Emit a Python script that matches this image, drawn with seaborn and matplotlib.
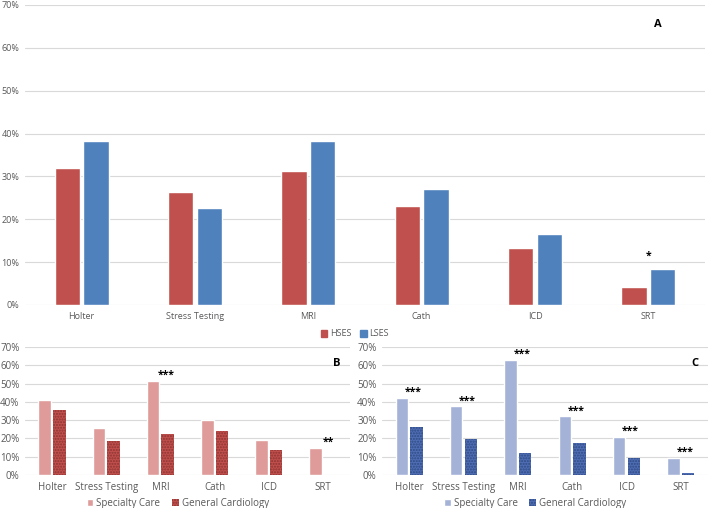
import matplotlib
matplotlib.use("Agg")
import matplotlib.pyplot as plt
from matplotlib.patches import Patch
import seaborn as sns
import pandas as pd

# categorias e valores (%)
categorias = ["Holter", "Stress Testing", "MRI", "Cath", "ICD", "SRT"]

hses = [32.0, 26.4, 31.3, 23.0, 13.3, 4.3]
lses = [38.3, 22.6, 38.3, 27.1, 16.6, 8.3]
estrelas_a = ["", "", "", "", "", "*"]

b_especialidade = [40.8, 25.8, 51.4, 30.2, 19.0, 15.0]
b_geral = [35.6, 18.6, 22.2, 23.8, 13.5, 0.0]
estrelas_b = ["", "", "***", "", "", "**"]

c_especialidade = [42.0, 37.5, 63.1, 32.0, 20.7, 9.5]
c_geral = [26.1, 19.7, 11.9, 17.7, 9.3, 0.9]
estrelas_c = ["***", "***", "***", "***", "***", "***"]

yticks = [0, 10, 20, 30, 40, 50, 60, 70]
ytick_labels = [f"{v}%" for v in yticks]

cinza_texto = "#595959"
cinza_grade = "#D9D9D9"


def montar_df(serie1, serie2, nome1, nome2):
    linhas = []
    for cat, v in zip(categorias, serie1):
        linhas.append({"cat": cat, "grupo": nome1, "valor": v})
    for cat, v in zip(categorias, serie2):
        linhas.append({"cat": cat, "grupo": nome2, "valor": v})
    return pd.DataFrame(linhas)


def painel(ax, df, cores, estrelas, serie_ref, letra, letra_pos, fs, hatch=None, hatch_cor=None,
           largura=0.52, gap=0.12, dx_estrela=0.05):
    sns.barplot(data=df, x="cat", y="valor", hue="grupo", palette=cores, ax=ax,
                width=largura, gap=gap, legend=False, saturation=1, errorbar=None)
    if hatch:
        for barra in ax.containers[1]:
            barra.set_hatch(hatch)
            barra.set_edgecolor(hatch_cor)
            barra.set_linewidth(0)
    ax.set_ylim(0, 70)
    ax.set_xlim(-0.5, len(categorias) - 0.5)
    ax.set_yticks(yticks)
    ax.set_yticklabels(ytick_labels)
    ax.set_xlabel("")
    ax.set_ylabel("")
    ax.grid(axis="y", color=cinza_grade, linewidth=0.8)
    ax.set_axisbelow(True)
    for s in ax.spines.values():
        s.set_visible(False)
    ax.tick_params(axis="both", length=0, colors=cinza_texto, labelsize=fs)
    ax.tick_params(axis="y", pad=4)
    ax.tick_params(axis="x", pad=5)
    for i, (txt, v) in enumerate(zip(estrelas, serie_ref)):
        if txt:
            ax.text(i + dx_estrela, v + 3.0, txt, ha="center", va="center",
                    fontsize=7.5, fontweight="bold", color="black")
    ax.text(letra_pos[0], letra_pos[1], letra, transform=ax.transAxes, ha="center", va="center",
            fontsize=8, fontweight="bold", color="black")


sns.set_theme(style="white")
plt.rcParams["font.family"] = ["Open Sans", "DejaVu Sans"]

fig = plt.figure(figsize=(7.09, 5.08), dpi=100)
ax_a = fig.add_axes([25 / 709, 1 - 305 / 508, 680 / 709, 300 / 508])
ax_b = fig.add_axes([25 / 709, 1 - 475 / 508, 325 / 709, 128 / 508])
ax_c = fig.add_axes([382 / 709, 1 - 475 / 508, 326 / 709, 128 / 508])

# Painel A
df_a = montar_df(hses, lses, "HSES", "LSES")
cores_a = ["#C0504D", "#4F81BD"]
painel(ax_a, df_a, cores_a, estrelas_a, lses, "A", (0.93, 0.935), 6.5,
       largura=0.51, gap=0.12, dx_estrela=0.0)
fig.legend(handles=[Patch(color=c, label=l) for c, l in zip(cores_a, ["HSES", "LSES"])],
           loc="center", bbox_to_anchor=(355 / 709, 1 - 334 / 508), ncol=2, frameon=False,
           fontsize=6.5, handlelength=0.7, handleheight=0.7, handletextpad=0.3,
           columnspacing=1.0, labelcolor=cinza_texto)

# Painel B
df_b = montar_df(b_especialidade, b_geral, "Specialty Care", "General Cardiology")
cores_b = ["#DE9B9A", "#C0504D"]
painel(ax_b, df_b, cores_b, estrelas_b, b_especialidade, "B", (0.96, 0.87), 7,
       hatch="......", hatch_cor="#8E3432", largura=0.54, gap=0.14, dx_estrela=0.1)
ax_b.legend(handles=[Patch(facecolor=cores_b[0], label="Specialty Care"),
                     Patch(facecolor=cores_b[1], hatch="......", edgecolor="#8E3432", linewidth=0,
                           label="General Cardiology")],
            loc="center", bbox_to_anchor=(0.47, -0.22), ncol=2, frameon=False, fontsize=7,
            handlelength=0.7, handleheight=0.7, handletextpad=0.3, columnspacing=1.2,
            labelcolor=cinza_texto)

# Painel C
df_c = montar_df(c_especialidade, c_geral, "Specialty Care", "General Cardiology")
cores_c = ["#A5B2D8", "#4F6DB2"]
painel(ax_c, df_c, cores_c, estrelas_c, c_especialidade, "C", (0.96, 0.87), 7,
       hatch="......", hatch_cor="#2F4A86", largura=0.54, gap=0.14, dx_estrela=0.07)
ax_c.legend(handles=[Patch(facecolor=cores_c[0], label="Specialty Care"),
                     Patch(facecolor=cores_c[1], hatch="......", edgecolor="#2F4A86", linewidth=0,
                           label="General Cardiology")],
            loc="center", bbox_to_anchor=(0.47, -0.22), ncol=2, frameon=False, fontsize=7,
            handlelength=0.7, handleheight=0.7, handletextpad=0.3, columnspacing=1.2,
            labelcolor=cinza_texto)

fig.savefig("out.png", dpi=100)
